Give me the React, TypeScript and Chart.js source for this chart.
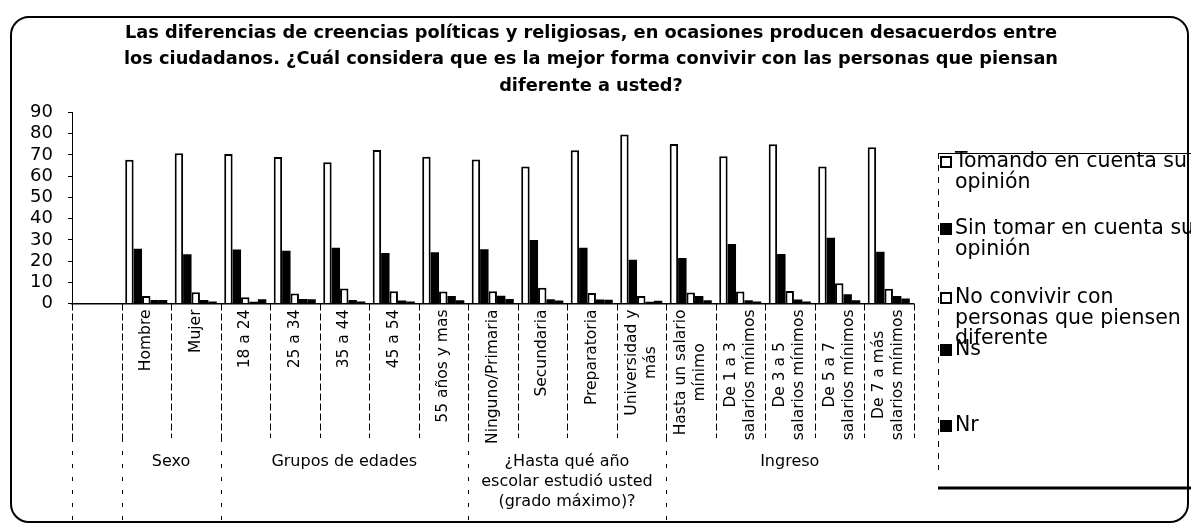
import React, { useEffect, useRef } from 'react';
import { Chart, registerables } from 'chart.js';

Chart.register(...registerables);

const TITLE_LINES = [
  'Las diferencias de creencias políticas y religiosas, en ocasiones producen desacuerdos entre',
  'los ciudadanos. ¿Cuál considera que es la mejor forma convivir con las personas que piensan',
  'diferente a usted?',
];

const categories: (string | string[])[] = [
  '',
  'Hombre',
  'Mujer',
  '18 a 24',
  '25 a 34',
  '35 a 44',
  '45 a 54',
  '55 años y mas',
  'Ninguno/Primaria',
  'Secundaria',
  'Preparatoria',
  ['Universidad y', 'más'],
  ['Hasta un salario', 'mínimo'],
  ['De 1 a 3', 'salarios mínimos'],
  ['De 3 a 5', 'salarios mínimos'],
  ['De 5 a 7', 'salarios mínimos'],
  ['De 7 a más', 'salarios mínimos'],
];

const groupLabels: string[][] = [
  ['Sexo'],
  ['Grupos de edades'],
  ['¿Hasta qué año', 'escolar estudió usted', '(grado máximo)?'],
  ['Ingreso'],
];
const groupFrom = [1, 3, 8, 12];
const groupTo = [2, 7, 11, 16];

const seriesLegend: string[][] = [
  ['Tomando en cuenta su', 'opinión'],
  ['Sin tomar en cuenta su', 'opinión'],
  ['No convivir con', 'personas que piensen', 'diferente'],
  ['Ns'],
  ['Nr'],
];

const tomando = [null, 67.7, 70.8, 70.4, 69.0, 66.5, 72.3, 69.2, 67.9, 64.5, 72.2, 79.6, 75.2, 69.4, 75.0, 64.5, 73.6];
const sinTomar = [null, 25.8, 23.2, 25.4, 24.8, 26.3, 23.8, 24.2, 25.6, 29.9, 26.3, 20.6, 21.4, 28.0, 23.3, 31.0, 24.4];
const noConvivir = [null, 3.5, 5.3, 3.0, 4.7, 7.1, 5.8, 5.7, 5.8, 7.4, 4.9, 3.5, 5.2, 5.6, 5.9, 9.5, 7.0];
const ns = [null, 1.7, 1.6, 0.8, 2.1, 1.6, 1.4, 3.5, 3.6, 2.0, 1.9, 0.8, 3.5, 1.5, 1.9, 4.3, 3.5];
const nr = [null, 1.6, 0.9, 2.0, 2.0, 1.0, 1.0, 1.5, 2.1, 1.4, 1.8, 1.3, 1.5, 1.0, 1.0, 1.5, 2.3];

const Y_MIN = 0;
const Y_MAX = 90;
const Y_STEP = 10;

const FONT = '"DejaVu Sans", sans-serif';

const decorPlugin = {
  id: 'decor',
  beforeDraw(chart: any) {
    const ctx = chart.ctx;
    ctx.save();
    ctx.fillStyle = '#fff';
    ctx.fillRect(0, 0, chart.width, chart.height);
    ctx.restore();
  },
  afterDraw(chart: any) {
    const ctx: CanvasRenderingContext2D = chart.ctx;
    const xs = chart.scales.x;
    const area = chart.chartArea;
    const n = categories.length;
    const half = (xs.getPixelForValue(1) - xs.getPixelForValue(0)) / 2;
    const bound = (b: number) => (b < n ? xs.getPixelForValue(b) - half : xs.getPixelForValue(n - 1) + half);
    const base = area.bottom;

    ctx.save();
    ctx.fillStyle = '#000';
    ctx.strokeStyle = '#000';

    // separators under axis
    const longB = new Set<number>([0, 1]);
    groupFrom.forEach((g) => longB.add(g));
    for (let b = 0; b <= n; b++) {
      const x = Math.round(bound(b)) + 0.5;
      ctx.lineWidth = 1;
      ctx.setLineDash([7, 3]);
      ctx.beginPath();
      ctx.moveTo(x, base);
      ctx.lineTo(x, 438);
      ctx.stroke();
      if (longB.has(b)) {
        ctx.setLineDash([4, 9]);
        ctx.beginPath();
        ctx.moveTo(x, 438);
        ctx.lineTo(x, 520);
        ctx.stroke();
      }
    }
    ctx.setLineDash([]);

    // category labels (rotated)
    ctx.font = `15.5px ${FONT}`;
    ctx.textBaseline = 'middle';
    ctx.textAlign = 'center';
    categories.forEach((c, i) => {
      const lines = Array.isArray(c) ? c : [c];
      if (!lines[0]) return;
      const cx = xs.getPixelForValue(i);
      const w = Math.max(...lines.map((l) => ctx.measureText(l).width));
      ctx.save();
      ctx.translate(cx, base + 6);
      ctx.rotate(-Math.PI / 2);
      lines.forEach((l, j) => {
        const dy = (j - (lines.length - 1) / 2) * 19;
        ctx.fillText(l, -w / 2, dy);
      });
      ctx.restore();
    });

    // group labels
    ctx.font = `16px ${FONT}`;
    groupLabels.forEach((g, k) => {
      const cx = (bound(groupFrom[k]) + bound(groupTo[k] + 1)) / 2;
      g.forEach((l, j) => ctx.fillText(l, cx, 462 + j * 20));
    });

    // title
    let size = 100;
    ctx.font = `bold ${size}px ${FONT}`;
    const w1 = ctx.measureText(TITLE_LINES[0]).width;
    size = (100 * 933) / w1;
    ctx.font = `bold ${size}px ${FONT}`;
    TITLE_LINES.forEach((l, j) => ctx.fillText(l, 591, 33 + j * 26.5));

    // legend
    const lx = 938;
    ctx.lineWidth = 1;
    ctx.setLineDash([]);
    ctx.beginPath();
    ctx.moveTo(lx, 153.5);
    ctx.lineTo(1191, 153.5);
    ctx.stroke();
    ctx.setLineDash([6, 6]);
    ctx.beginPath();
    ctx.moveTo(lx + 0.5, 153);
    ctx.lineTo(lx + 0.5, 470);
    ctx.stroke();
    ctx.setLineDash([]);
    ctx.lineWidth = 3;
    ctx.beginPath();
    ctx.moveTo(lx, 488);
    ctx.lineTo(1191, 488);
    ctx.stroke();

    const rowY = [162, 229, 298, 350, 426];
    ctx.font = `20.5px ${FONT}`;
    ctx.textAlign = 'left';
    chart.data.datasets.forEach((ds: any, i: number) => {
      const y = rowY[i];
      ctx.fillStyle = ds.backgroundColor;
      ctx.fillRect(lx + 3, y - 5, 10, 10);
      ctx.lineWidth = 2;
      ctx.strokeStyle = '#000';
      ctx.strokeRect(lx + 3, y - 5, 10, 10);
      ctx.fillStyle = '#000';
      seriesLegend[i].forEach((l, j) => ctx.fillText(l, lx + 17, y + j * 20.5));
    });

    // outer rounded border
    ctx.lineWidth = 2;
    ctx.strokeStyle = '#000';
    ctx.beginPath();
    (ctx as any).roundRect(11, 17, 1177, 505, 18);
    ctx.stroke();
    ctx.restore();
  },
};

export default function App() {
  const ref = useRef<HTMLCanvasElement>(null);
  useEffect(() => {
    if (!ref.current) return;
    const mk = (label: string, data: any[], fill: string, border: number) => ({
      label,
      data,
      backgroundColor: fill,
      borderColor: '#000',
      borderWidth: border,
      categoryPercentage: 0.85,
      barPercentage: 1.0,
    });
    const chart = new Chart(ref.current, {
      type: 'bar',
      data: {
        labels: categories.map((c) => (Array.isArray(c) ? c.join(' ') : c)),
        datasets: [
          mk(seriesLegend[0].join(' '), tomando, '#ffffff', 2),
          mk(seriesLegend[1].join(' '), sinTomar, '#000000', 0),
          mk(seriesLegend[2].join(' '), noConvivir, '#ffffff', 2),
          mk(seriesLegend[3].join(' '), ns, '#000000', 0),
          mk(seriesLegend[4].join(' '), nr, '#000000', 0),
        ],
      },
      options: {
        animation: false,
        responsive: false,
        devicePixelRatio: 1,
        layout: { padding: { top: 112.5, bottom: 223.5, left: 0, right: 277.5 } },
        plugins: { legend: { display: false }, title: { display: false }, tooltip: { enabled: false } },
        scales: {
          x: {
            grid: { display: false },
            ticks: { display: false },
            border: { display: true, color: '#000', width: 1.5 },
            afterFit: (s: any) => {
              s.height = 0;
            },
          },
          y: {
            min: Y_MIN,
            max: Y_MAX,
            ticks: {
              stepSize: Y_STEP,
              autoSkip: false,
              color: '#000',
              font: { size: 18, family: FONT },
              padding: 15,
            },
            grid: { drawOnChartArea: false, drawTicks: true, tickLength: 4, color: '#000' },
            border: { display: true, color: '#000', width: 1 },
            afterFit: (s: any) => {
              s.width = 72;
            },
          },
        },
      },
      plugins: [decorPlugin],
    });
    return () => chart.destroy();
  }, []);
  return (
    <div style={{ position: 'absolute', left: 0, top: 0, width: 1191, height: 527 }}>
      <canvas ref={ref} width={1191} height={527} />
    </div>
  );
}
